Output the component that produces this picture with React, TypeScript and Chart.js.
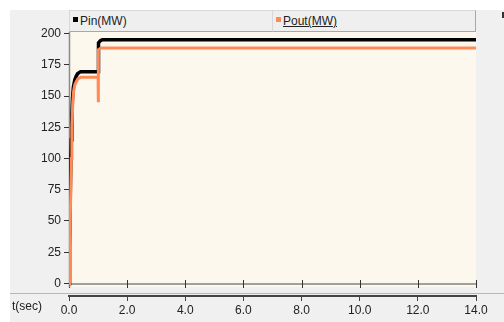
import React, { useEffect, useRef } from "react";
import { Chart, registerables } from "chart.js";

Chart.register(...registerables);

// ---- data ----
const pinTime = [0, 0.02, 0.05, 0.08, 0.1, 0.12, 0.15, 0.2, 0.25, 0.3, 0.4, 1.0, 1.0, 1.03, 1.08, 1.15, 14];
const pinValues = [0, 30, 80, 115, 135, 148, 157, 163, 166, 168, 169.5, 169.5, 189, 192.5, 194.3, 195, 195];
const poutTime = [0, 0.02, 0.05, 0.08, 0.1, 0.13, 0.16, 0.2, 0.25, 0.3, 0.4, 1.0, 1.0, 1.0, 1.03, 1.1, 14];
const poutValues = [0, 20, 60, 100, 125, 145, 154, 159, 161.5, 163.5, 165, 165, 145, 185, 187, 188.5, 188.5];
const yTicks = [0, 25, 50, 75, 100, 125, 150, 175, 200];
const xTickStep = 2;
const seriesNames = ["Pin(MW)", "Pout(MW)"];
const seriesColors = ["#000000", "#ff8a55"];

const FONT = "'Liberation Sans Narrow', 'Arial Narrow', 'Liberation Sans', Arial, sans-serif";

const panelPlugin = {
  id: "panel",
  beforeDraw(chart: any) {
    const { ctx, chartArea, scales } = chart;
    const W = chart.width;
    const H = chart.height;
    const y = scales.y;
    const x = scales.x;
    ctx.save();
    ctx.fillStyle = "#ffffff";
    ctx.fillRect(0, 0, W, H);
    ctx.fillStyle = "#f0f0f0";
    ctx.fillRect(10, 10, W - 10, H - 10);
    // plot background
    const plotBottom = 287;
    ctx.fillStyle = "#fdf8ee";
    ctx.fillRect(chartArea.left, chartArea.top, chartArea.right - chartArea.left, plotBottom - chartArea.top);
    // separator line
    ctx.strokeStyle = "#b8b8b8";
    ctx.lineWidth = 1;
    ctx.beginPath();
    ctx.moveTo(10, 293.5);
    ctx.lineTo(W, 293.5);
    ctx.stroke();
    // zero line
    const y0 = Math.round(y.getPixelForValue(0));
    ctx.strokeStyle = "#a0a0a0";
    ctx.lineWidth = 2;
    ctx.beginPath();
    ctx.moveTo(chartArea.left, y0);
    ctx.lineTo(chartArea.right, y0);
    ctx.stroke();
    // tick crossings on zero line
    ctx.strokeStyle = "#333";
    ctx.lineWidth = 1;
    x.ticks.forEach((t: any) => {
      const px = Math.round(x.getPixelForValue(t.value)) + 0.5;
      ctx.beginPath();
      ctx.moveTo(px, y0 - 4);
      ctx.lineTo(px, y0 + 4);
      ctx.stroke();
    });
    // y axis line
    ctx.strokeStyle = "#8a8a8a";
    ctx.lineWidth = 1.5;
    ctx.beginPath();
    ctx.moveTo(chartArea.left + 0.5, chartArea.top);
    ctx.lineTo(chartArea.left + 0.5, plotBottom);
    ctx.stroke();
    // small mark at right
    ctx.fillStyle = "#333";
    ctx.fillRect(502, 12, 2, 6);
    ctx.restore();
  },
};

export default function App() {
  const ref = useRef<HTMLCanvasElement>(null);

  useEffect(() => {
    if (!ref.current) return;
    const chart = new Chart(ref.current, {
      type: "line",
      data: {
        datasets: [
          {
            label: seriesNames[0],
            data: pinTime.map((t, i) => ({ x: t, y: pinValues[i] })),
            borderColor: seriesColors[0],
            borderWidth: 3.5,
            pointRadius: 0,
            tension: 0,
            order: 2,
          },
          {
            label: seriesNames[1],
            data: poutTime.map((t, i) => ({ x: t, y: poutValues[i] })),
            borderColor: seriesColors[1],
            borderWidth: 3,
            pointRadius: 0,
            tension: 0,
            order: 1,
          },
        ],
      },
      options: {
        animation: false,
        responsive: false,
        maintainAspectRatio: false,
        layout: { padding: { left: 0, right: 28, top: 32, bottom: 0 } },
        plugins: { legend: { display: false }, tooltip: { enabled: false } },
        scales: {
          x: {
            type: "linear",
            min: 0,
            max: 14,
            afterFit: (s: any) => {
              s.height = 26;
            },
            ticks: {
              stepSize: xTickStep,
              padding: 2,
              color: "#222",
              font: { family: FONT, size: 12 },
              callback: (v: any) => Number(v).toFixed(1),
              maxRotation: 0,
            },
            grid: { drawOnChartArea: false, drawTicks: true, tickLength: 5, color: "#444" },
            border: { display: true, color: "#444", width: 2 },
          },
          y: {
            type: "linear",
            min: -10,
            max: 201.2,
            afterFit: (s: any) => {
              s.width = 69;
            },
            afterBuildTicks: (s: any) => {
              s.ticks = yTicks.map((v) => ({ value: v }));
            },
            ticks: {
              padding: 3,
              color: "#222",
              font: { family: FONT, size: 12 },
            },
            grid: { drawOnChartArea: false, drawTicks: true, tickLength: 5, color: "#333" },
            border: { display: false },
          },
        },
      },
      plugins: [panelPlugin],
    });
    return () => chart.destroy();
  }, []);

  const half = (i: number, left: number, width: number) => (
    <div
      style={{
        position: "absolute",
        left,
        top: 10,
        width,
        height: 22,
        boxSizing: "border-box",
        background: "#efefef",
        borderTop: "1px solid #d8d8d8",
        borderLeft: "1px solid #d8d8d8",
        borderRight: "1px solid #a8a8a8",
        borderBottom: "1px solid #a8a8a8",
      }}
    >
      <div
        style={{
          position: "absolute",
          left: 3,
          top: 6,
          width: 5,
          height: 5,
          background: seriesColors[i],
        }}
      />
      <span
        style={{
          position: "absolute",
          left: 10,
          top: 3,
          fontFamily: FONT,
          fontSize: 12,
          lineHeight: "14px",
          color: "#222",
          textDecoration: i === 1 ? "underline" : "none",
          whiteSpace: "nowrap",
        }}
      >
        {seriesNames[i]}
      </span>
    </div>
  );

  return (
    <div style={{ position: "absolute", left: 0, top: 0, width: 504, height: 322 }}>
      <canvas ref={ref} width={504} height={322} style={{ position: "absolute", left: 0, top: 0, width: 504, height: 322 }} />
      {half(0, 69, 204)}
      {half(1, 272, 204)}
      <span
        style={{
          position: "absolute",
          left: 12,
          top: 299,
          fontFamily: FONT,
          fontSize: 12,
          lineHeight: "14px",
          color: "#222",
        }}
      >
        t(sec)
      </span>
    </div>
  );
}
